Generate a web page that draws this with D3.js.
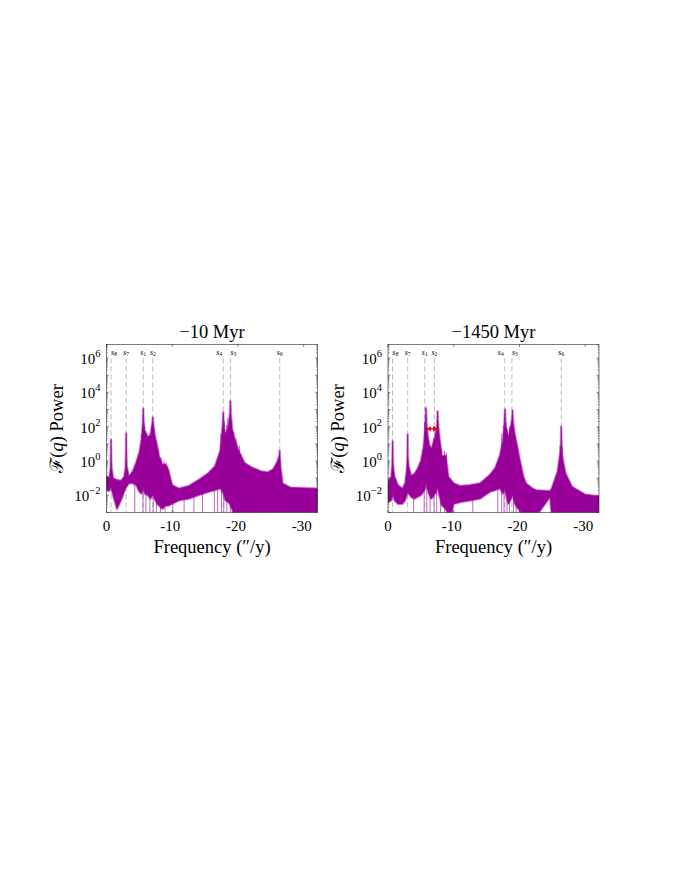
<!DOCTYPE html>
<html>
<head>
<meta charset="utf-8">
<script src="https://cdn.jsdelivr.net/npm/d3@7"></script>
<style>
  body { margin: 0; background: #fff; }
  text { font-family: "Liberation Serif", "Times New Roman", serif; fill: #000; }
</style>
</head>
<body>
<div id="chart"></div>
<script>
const width = 680;
const height = 880;

// secular frequencies s_i ("/y) marked by the dashed lines
const sNames = ["8", "7", "1", "2", "4", "3", "6"];
const sFreqs = [-0.69, -2.99, -5.59, -7.05, -17.76, -18.85, -26.35];

const xTicks = [0, -10, -20, -30];
const yLabelExps = [-2, 0, 2, 4, 6];

// ---- panel A: -10 Myr (envelope of the spectrum, log10 power) ----
const freqA = [0, -0.4, -0.6, -0.66, -0.69, -0.72, -0.8, -1.0, -1.6, -2.2, -2.7, -2.88, -2.95, -2.99, -3.03, -3.1, -3.4,
  -4.0, -4.5, -5.0, -5.35, -5.5, -5.59, -5.68, -5.8, -6.3, -6.7, -6.95, -7.05, -7.15, -7.3, -7.7, -8.0, -8.5,
  -9.0, -9.4, -10.0, -11.0, -12.5, -14.0, -15.5, -16.5, -17.3, -17.65, -17.76, -17.87, -18.1, -18.5, -18.75,
  -18.85, -18.95, -19.1, -19.5, -20.0, -21.0, -22.0, -23.5, -24.5, -25.3, -25.9, -26.2, -26.3, -26.35, -26.4,
  -26.5, -26.8, -28.0, -32.1];
const upperA = [-0.85, -1.0, -0.5, 0.2, 1.25, 0.2, -0.4, -1.0, -1.1, -1.15, -0.9, -0.4, 0.4, 1.6, 0.4, -0.3, -0.9,
  -0.6, -0.1, 0.5, 1.3, 2.0, 3.05, 2.1, 1.8, 1.4, 1.5, 2.2, 2.55, 2.1, 1.6, 0.9, 0.3, -0.2,
  -0.2, -0.5, -1.4, -1.6, -1.45, -1.1, -0.7, -0.3, 0.6, 1.9, 2.85, 1.9, 1.6, 1.9, 2.6,
  3.5, 2.6, 1.9, 1.3, 0.7, -0.1, -0.35, -0.6, -0.65, -0.5, -0.1, 0.2, 0.35, 0.6, 0.2,
  -0.4, -1.3, -1.55, -1.6];
const lowerA = [-1.7, -1.75, -1.6, -1.55, -1.5, -1.55, -1.7, -2.0, -2.8, -2.3, -1.8, -1.6, -1.55, -1.5, -1.5, -1.5, -1.3,
  -1.3, -1.4, -1.8, -1.9, -1.7, -1.5, -1.7, -1.9, -2.0, -2.2, -2.0, -2.0, -2.0, -2.2, -2.5, -2.6, -2.8,
  -2.6, -2.6, -2.5, -2.3, -2.2, -2.0, -1.8, -1.7, -1.6, -1.8, -1.9, -2.0, -2.3, -2.4, -2.5,
  -2.6, -2.7, -2.8, -3.2, -3.2, -3.2, -3.2, -3.2, -3.2, -3.2, -3.2, -3.2, -3.2, -3.2, -3.2,
  -3.2, -3.2, -3.2, -3.2];
const spikeFreqA = [-5.3, -5.45, -5.75, -5.95, -6.15, -6.5, -6.85, -7.25, -7.5, -7.9, -8.3, -8.75, -9.05, -9.3,
  -17.4, -17.6, -17.95, -18.25, -18.45, -18.7, -19.05, -19.3, -19.7, -20.2];
const spikeTopA = [1.6, 2.0, 2.2, 1.5, 1.2, 1.6, 1.9, 1.9, 1.2, 0.6, 0.2, 0.0, -0.1, -0.3,
  1.6, 2.0, 2.3, 2.1, 2.5, 2.7, 2.3, 1.7, 1.3, 0.9];
const dropFreqA = [-4.3, -5.55, -6.0, -6.6, -7.1, -7.6, -8.2, -8.9, -10.1, -11.8, -13.3, -14.6, -16.4, -16.9,
  -17.5, -17.85, -18.3, -18.9, -19.2];

// ---- panel B: -1450 Myr ----
const freqB = [0, -0.5, -0.65, -0.71, -0.77, -0.85, -1.0, -1.5, -2.2, -2.6, -2.85, -2.95, -2.99, -3.03, -3.15, -3.5,
  -4.0, -4.5, -5.0, -5.4, -5.65, -5.78, -5.9, -6.05, -6.3, -6.6, -7.0, -7.35, -7.47, -7.55, -7.65, -7.8, -8.2,
  -8.8, -9.2, -9.6, -10.0, -11.0, -12.5, -14.0, -15.5, -16.3, -17.0, -17.5, -17.68, -17.8, -17.92, -18.1, -18.3,
  -18.6, -18.85, -18.95, -19.05, -19.3, -19.6, -20.1, -20.6, -21.0, -22.0, -22.6, -24.65, -24.9, -25.8, -26.2,
  -26.3, -26.35, -26.42, -26.5, -27.0, -28.0, -30.0, -32.1];
const upperB = [-1.25, -0.9, -0.1, 1.15, -0.1, -0.5, -0.9, -1.4, -1.6, -1.3, -0.5, 0.3, 1.55, 0.3, -0.3, -0.85,
  -0.75, -0.45, 0.0, 0.8, 1.8, 3.1, 2.0, 1.5, 0.9, 0.7, 1.2, 1.7, 2.2, 2.9, 2.1, 1.5, 0.3,
  0.3, -0.9, -1.1, -1.3, -1.45, -1.4, -1.3, -0.8, -0.4, 0.3, 1.2, 2.0, 3.0, 2.0, 1.8, 1.4,
  1.9, 2.3, 2.95, 2.2, 1.5, 1.0, 0.0, -0.9, -1.3, -1.6, -1.7, -1.75, -1.6, -0.6, 0.5,
  1.0, 2.0, 1.0, 0.3, -0.7, -1.5, -1.95, -2.05];
const lowerB = [-2.4, -2.3, -2.1, -1.8, -2.0, -2.1, -2.3, -2.5, -2.5, -2.3, -2.0, -1.9, -1.8, -1.9, -1.9, -2.1,
  -2.2, -2.1, -2.0, -1.8, -1.6, -1.2, -1.5, -1.7, -2.0, -2.2, -2.0, -1.8, -1.7, -1.5, -1.7, -2.0, -2.6,
  -2.8, -3.2, -3.2, -2.5, -2.4, -2.3, -2.2, -1.8, -1.7, -1.6, -1.9, -1.8, -1.6, -1.9, -2.2, -2.5,
  -2.3, -2.1, -2.0, -2.1, -2.5, -2.7, -2.9, -3.2, -3.2, -3.2, -3.2, -2.1, -3.2, -3.2, -3.2,
  -3.2, -3.2, -3.2, -3.2, -3.2, -3.2, -3.2, -3.2];
const spikeFreqB = [-5.55, -5.9, -6.2, -6.5, -6.9, -7.2, -7.8, -8.1, -8.6, -8.85,
  -17.3, -17.55, -17.95, -18.2, -18.5, -18.75, -19.15, -19.4, -26.2, -26.5];
const spikeTopB = [2.3, 2.0, 1.2, 0.9, 1.3, 1.9, 1.2, 0.7, 0.6, 0.5,
  1.6, 2.1, 2.2, 1.6, 2.0, 2.4, 2.0, 1.5, 0.9, 0.8];
const dropFreqB = [-3.9, -5.5, -5.9, -6.4, -7.0, -7.4, -8.0, -8.6, -12.9, -16.7, -17.3, -17.65, -18.1,
  -18.5, -19.1, -19.5, -20.0];

// red double arrow between the shifted s1 and s2 peaks (panel B)
const arrowFreqs = [-5.85, -7.6];
const arrowExp = 1.88;

const purple = "#990099";
const axisColor = "#262626";

const svg = d3.create("svg")
  .attr("width", width)
  .attr("height", height)
  .attr("viewBox", [0, 0, width, height]);

const defs = svg.append("defs");
defs.append("marker")
  .attr("id", "head")
  .attr("viewBox", "0 0 10 10")
  .attr("refX", 9).attr("refY", 5)
  .attr("markerWidth", 4).attr("markerHeight", 4)
  .attr("orient", "auto-start-reverse")
  .append("path")
  .attr("d", "M0,0L10,5L0,10Z")
  .attr("fill", "#ff0000");

const plotTop = 344.3;
const plotH = 168.2;
const plotW = 211;

const panels = [
  { left: 106.5, title: "\u221210 Myr", freq: freqA, upper: upperA, lower: lowerA,
    spikeFreq: spikeFreqA, spikeTop: spikeTopA, drops: dropFreqA, arrow: false },
  { left: 388, title: "\u22121450 Myr", freq: freqB, upper: upperB, lower: lowerB,
    spikeFreq: spikeFreqB, spikeTop: spikeTopB, drops: dropFreqB, arrow: true },
];

panels.forEach((p, i) => drawPanel(p, i));

function drawPanel(p, i) {
  const g = svg.append("g").attr("transform", `translate(${p.left},${plotTop})`);

  const x = d3.scaleLinear().domain([0, -32.1]).range([0, plotW]);
  const y = d3.scaleLog().domain([1e-3, 10 ** 6.8]).range([plotH, 0]);

  const clipId = `clip-${i}`;
  defs.append("clipPath").attr("id", clipId)
    .append("rect").attr("width", plotW).attr("height", plotH);

  const body = g.append("g").attr("clip-path", `url(#${clipId})`);

  // dashed reference lines
  body.append("g")
    .selectAll("line")
    .data(sFreqs)
    .join("line")
    .attr("x1", d => x(d)).attr("x2", d => x(d))
    .attr("y1", 14).attr("y2", plotH)
    .attr("stroke", "#bdbdbd")
    .attr("stroke-width", 1)
    .attr("stroke-dasharray", "5,3");

  const band = p.freq.map((f, k) => ({ f, hi: 10 ** p.upper[k], lo: 10 ** p.lower[k] }));
  const lowAt = f => 10 ** d3.scaleLinear().domain(p.freq).range(p.lower)(f);

  // downward lines reaching the bottom
  body.append("g")
    .selectAll("line")
    .data(p.drops)
    .join("line")
    .attr("x1", d => x(d)).attr("x2", d => x(d))
    .attr("y1", d => y(lowAt(d))).attr("y2", plotH + 2)
    .attr("stroke", purple)
    .attr("stroke-opacity", 0.75)
    .attr("stroke-width", 0.8);

  const area = d3.area()
    .x(d => x(d.f))
    .y0(d => y(d.lo))
    .y1(d => y(d.hi));

  // soft, noisy-looking edge
  body.append("path")
    .datum(band)
    .attr("d", area)
    .attr("fill", "none")
    .attr("stroke", purple)
    .attr("stroke-opacity", 0.35)
    .attr("stroke-width", 2.6)
    .attr("stroke-linejoin", "round");

  body.append("path")
    .datum(band)
    .attr("d", area)
    .attr("fill", purple)
    .attr("stroke", purple)
    .attr("stroke-width", 0.6)
    .attr("stroke-linejoin", "round");

  // thin spikes poking above the envelope
  body.append("g")
    .selectAll("line")
    .data(p.spikeFreq)
    .join("line")
    .attr("x1", d => x(d)).attr("x2", d => x(d))
    .attr("y1", (d, k) => y(10 ** p.spikeTop[k]))
    .attr("y2", d => y(lowAt(d)))
    .attr("stroke", purple)
    .attr("stroke-opacity", 0.8)
    .attr("stroke-width", 0.8);

  if (p.arrow) {
    g.append("line")
      .attr("x1", x(arrowFreqs[0])).attr("x2", x(arrowFreqs[1]))
      .attr("y1", y(10 ** arrowExp)).attr("y2", y(10 ** arrowExp))
      .attr("stroke", "#ff0000")
      .attr("stroke-width", 1.4)
      .attr("marker-start", "url(#head)")
      .attr("marker-end", "url(#head)");
  }

  // s labels
  const labelShift = { "8": 3, "4": -4, "3": 3 };
  const lab = g.append("g")
    .selectAll("text")
    .data(sNames)
    .join("text")
    .attr("x", (d, k) => x(sFreqs[k]) + (labelShift[d] || 0))
    .attr("y", 10.5)
    .attr("text-anchor", "middle")
    .attr("font-size", 8);
  lab.append("tspan").attr("font-style", "italic").text("s");
  lab.append("tspan").attr("font-size", 5.5).attr("dy", 1.5).text(d => d);

  // frame
  g.append("rect")
    .attr("width", plotW).attr("height", plotH)
    .attr("fill", "none")
    .attr("stroke", axisColor)
    .attr("stroke-width", 0.6);

  // x ticks (inside, top and bottom)
  const xt = g.append("g").attr("stroke", axisColor).attr("stroke-width", 0.6);
  xTicks.forEach(t => {
    xt.append("line").attr("x1", x(t)).attr("x2", x(t)).attr("y1", plotH).attr("y2", plotH - 2.5);
    xt.append("line").attr("x1", x(t)).attr("x2", x(t)).attr("y1", 0).attr("y2", 2.5);
  });
  g.append("g")
    .selectAll("text")
    .data(xTicks)
    .join("text")
    .attr("x", d => x(d) - (d === 0 ? 0 : 2))
    .attr("y", plotH + 19)
    .attr("text-anchor", "middle")
    .attr("font-size", 15)
    .text(d => d === 0 ? "0" : "-" + Math.abs(d));

  // y ticks: decades and minor ticks, both sides
  const yt = g.append("g").attr("stroke", axisColor).attr("stroke-width", 0.5);
  for (let e = -3; e <= 6; e++) {
    for (let m = 1; m <= 9; m++) {
      const v = m * 10 ** e;
      if (v > 10 ** 6.8) continue;
      const len = m === 1 ? 2.5 : 1.4;
      yt.append("line").attr("x1", 0).attr("x2", len).attr("y1", y(v)).attr("y2", y(v));
      yt.append("line").attr("x1", plotW).attr("x2", plotW - len).attr("y1", y(v)).attr("y2", y(v));
    }
  }
  const yl = g.append("g")
    .selectAll("text")
    .data(yLabelExps)
    .join("text")
    .attr("x", -6)
    .attr("y", d => y(10 ** d) + 6)
    .attr("text-anchor", "end")
    .attr("font-size", 15);
  yl.append("tspan").text("10");
  yl.append("tspan").attr("font-size", 10.5).attr("dy", -7).text(d => d < 0 ? "\u2212" + Math.abs(d) : d);

  // titles and axis labels
  g.append("text")
    .attr("x", plotW / 2)
    .attr("y", -6.5)
    .attr("text-anchor", "middle")
    .attr("font-size", 18.5)
    .text(p.title);

  g.append("text")
    .attr("x", plotW / 2)
    .attr("y", plotH + 41)
    .attr("text-anchor", "middle")
    .attr("font-size", 18.5)
    .text("Frequency (\u2033/y)");

  const ylab = g.append("text")
    .attr("transform", `translate(-44,${plotH / 2}) rotate(-90)`)
    .attr("text-anchor", "middle")
    .attr("font-size", 18.5);
  ylab.append("tspan").text("\u2131(");
  ylab.append("tspan").attr("font-style", "italic").text("q");
  ylab.append("tspan").text(") Power");
}

d3.select("#chart").node().append(svg.node());
</script>
</body>
</html>
